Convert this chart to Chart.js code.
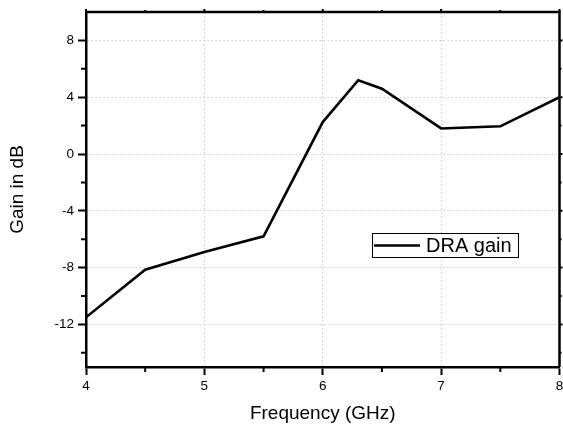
<!DOCTYPE html>
<html>
<head>
<meta charset="utf-8">
<script src="https://cdn.jsdelivr.net/npm/chart.js@4/dist/chart.umd.min.js"></script>
<style>
html,body{margin:0;padding:0;background:#fff;}
#wrap{width:563px;height:426px;position:relative;}
</style>
</head>
<body>
<div id="wrap"><canvas id="c" width="563" height="426"></canvas></div>
<script>
const frequency = [4, 4.5, 5, 5.5, 6, 6.3, 6.5, 7, 7.5, 8];
const gain = [-11.5, -8.15, -6.9, -5.8, 2.25, 5.2, 4.6, 1.8, 1.95, 4.0];
const xMajorTicks = [4, 5, 6, 7, 8];
const xMinorTicks = [4.5, 5.5, 6.5, 7.5];
const yMajorTicks = [-12, -8, -4, 0, 4, 8];
const yMinorTicks = [-14, -10, -6, -2, 2, 6];
const seriesName = 'DRA gain';
const xTitle = 'Frequency (GHz)';
const yTitle = 'Gain in dB';

const FONT = 'Arial, "Liberation Sans", sans-serif';

const framePlugin = {
  id: 'frame',
  afterDraw(chart) {
    const {ctx, chartArea: a, scales: {x, y}} = chart;
    ctx.save();
    ctx.strokeStyle = '#000';
    ctx.lineWidth = 2.5;
    ctx.beginPath();
    ctx.moveTo(a.left, a.top);
    ctx.lineTo(a.right, a.top);
    ctx.lineTo(a.right, a.bottom);
    ctx.stroke();
    // minor ticks (outward)
    ctx.lineWidth = 2;
    ctx.beginPath();
    xMinorTicks.forEach(v => {
      const px = x.getPixelForValue(v);
      ctx.moveTo(px, a.bottom); ctx.lineTo(px, a.bottom + 5);
      ctx.moveTo(px, a.top); ctx.lineTo(px, a.top - 2);
    });
    yMinorTicks.forEach(v => {
      const py = y.getPixelForValue(v);
      ctx.moveTo(a.left, py); ctx.lineTo(a.left - 5, py);
      ctx.moveTo(a.right, py); ctx.lineTo(a.right + 2, py);
    });
    xMajorTicks.forEach(v => {
      const px = x.getPixelForValue(v);
      ctx.moveTo(px, a.top); ctx.lineTo(px, a.top - 3);
    });
    yMajorTicks.forEach(v => {
      const py = y.getPixelForValue(v);
      ctx.moveTo(a.right, py); ctx.lineTo(a.right + 3, py);
    });
    ctx.stroke();
    // legend box
    const ds = chart.data.datasets[0];
    const bx = 372, by = 233, bw = 146, bh = 24;
    ctx.fillStyle = '#fff';
    ctx.fillRect(bx, by, bw, bh);
    ctx.lineWidth = 1;
    ctx.strokeStyle = '#000';
    ctx.strokeRect(bx + 0.5, by + 0.5, bw, bh);
    ctx.lineWidth = ds.borderWidth;
    ctx.strokeStyle = ds.borderColor;
    ctx.beginPath();
    ctx.moveTo(bx + 2, by + bh / 2 + 0.5);
    ctx.lineTo(bx + 48, by + bh / 2 + 0.5);
    ctx.stroke();
    ctx.fillStyle = '#000';
    ctx.font = '20px ' + FONT;
    ctx.textBaseline = 'middle';
    ctx.textAlign = 'left';
    ctx.fillText(ds.label, bx + 54, by + bh / 2 + 1);
    ctx.restore();
  }
};

new Chart(document.getElementById('c'), {
  type: 'line',
  data: {
    datasets: [{
      label: seriesName,
      data: frequency.map((f, i) => ({x: f, y: gain[i]})),
      borderColor: '#000',
      borderWidth: 2.6,
      pointRadius: 0,
      tension: 0,
      fill: false
    }]
  },
  options: {
    responsive: false,
    animation: false,
    devicePixelRatio: 1,
    layout: {padding: {top: 12, right: 3.5, left: 0, bottom: 0}},
    plugins: {legend: {display: false}, tooltip: {enabled: false}},
    scales: {
      x: {
        type: 'linear',
        min: 4, max: 8,
        afterBuildTicks: s => { s.ticks = xMajorTicks.map(v => ({value: v})); },
        afterFit: s => { s.height = 59; s.paddingLeft = 0; s.paddingRight = 0; },
        ticks: {color: '#000', font: {family: FONT, size: 13.5}, padding: 3, maxRotation: 0},
        grid: {
          color: c => (c.tick && (c.tick.value === 4 || c.tick.value === 8)) ? 'rgba(0,0,0,0)' : '#c8c8c8',
          lineWidth: 1,
          tickLength: 8,
          tickColor: '#000',
          tickWidth: 2
        },
        border: {display: true, color: '#000', width: 2.5, dash: [1.5, 2.5]},
        title: {display: true, text: xTitle, color: '#000', font: {family: FONT, size: 19}, padding: {top: 0, bottom: 1}}
      },
      y: {
        type: 'linear',
        min: -15, max: 10,
        afterBuildTicks: s => { s.ticks = yMajorTicks.map(v => ({value: v})); },
        afterFit: s => { s.width = 86; s.paddingTop = 0; s.paddingBottom = 0; },
        ticks: {color: '#000', font: {family: FONT, size: 13.5}, padding: 4},
        grid: {
          color: '#c8c8c8',
          lineWidth: 1,
          tickLength: 8,
          tickColor: '#000',
          tickWidth: 2
        },
        border: {display: true, color: '#000', width: 2.5, dash: [1.5, 2.5]},
        title: {display: true, text: yTitle, color: '#000', font: {family: FONT, size: 19}, padding: {top: 6, bottom: 0}}
      }
    }
  },
  plugins: [framePlugin]
});
</script>
</body>
</html>
